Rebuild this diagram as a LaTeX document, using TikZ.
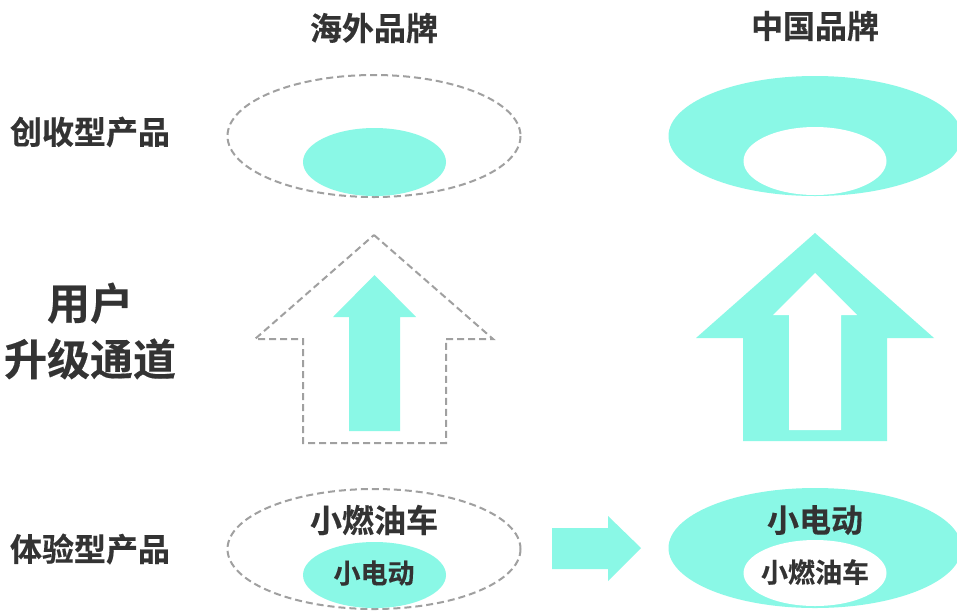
\documentclass[tikz,border=0pt]{standalone}
\usepackage{fontspec}
\newfontfamily\cjk{Noto Sans CJK SC Bold}[FakeBold=0.35]
\definecolor{teal}{HTML}{8AF8E6}
\definecolor{txt}{HTML}{333333}
\definecolor{dashc}{HTML}{A0A0A0}
\tikzset{x=1pt,y=-1pt,
 fillshape/.style={fill=teal,draw=none},
 hole/.style={fill=white,draw=none},
 dashshape/.style={draw=dashc,line width=2pt,dash pattern=on 7pt off 4pt,fill=none},
 L/.style={inner sep=0pt,text=txt,font=\cjk\fontsize{32}{32}\selectfont},
 B/.style={inner sep=0pt,text=txt,font=\cjk\fontsize{43}{56}\selectfont,align=center},
 S/.style={inner sep=0pt,text=txt,font=\cjk\fontsize{27}{27}\selectfont}}
\begin{document}
\begin{tikzpicture}
\useasboundingbox (0,0) rectangle (957,611);
\fill[white] (0,0) rectangle (957,611);
\node[L] (h1) at (374,28) {海外品牌};
\node[L] (h2) at (815,26) {中国品牌};
\node[L] (r1) at (90,132) {创收型产品};
\node[L] (r2) at (90,549) {体验型产品};
\node[B] (mid) at (90,331) {用户\\升级通道};
% top left
\draw[dashshape] (374,136) ellipse [x radius=146.5,y radius=61];
\fill[fillshape] (374.5,162) ellipse [x radius=71.5,y radius=34];
% top right
\fill[fillshape] (815,136) ellipse [x radius=146.5,y radius=60];
\fill[hole] (815,161) ellipse [x radius=71.5,y radius=34];
% up arrows
\draw[dashshape] (374,235) -- (493,339) -- (446,339) -- (446,443) -- (303,443) -- (303,339) -- (255,339) -- cycle;
\fill[fillshape] (374.5,275) -- (416,317) -- (400,317) -- (400,431) -- (349,431) -- (349,317) -- (333,317) -- cycle;
\fill[fillshape] (815,233) -- (934,338) -- (887,338) -- (887,441) -- (743,441) -- (743,338) -- (696,338) -- cycle;
\fill[hole] (815,273) -- (857,315) -- (841,315) -- (841,430) -- (789,430) -- (789,315) -- (773,315) -- cycle;
% bottom
\draw[dashshape] (374,549) ellipse [x radius=146.5,y radius=60];
\fill[fillshape] (374.5,575) ellipse [x radius=71.5,y radius=33];
\fill[fillshape] (815,548) ellipse [x radius=146.5,y radius=60];
\fill[hole] (815,573) ellipse [x radius=71.5,y radius=33];
\fill[fillshape] (552,528) -- (608,528) -- (608,516) -- (641,548) -- (608,581) -- (608,569) -- (552,569) -- cycle;
\node[L] (a) at (374,520) {小燃油车};
\node[S] (b) at (374,573) {小电动};
\node[L] (c) at (815,520) {小电动};
\node[S] (d) at (815,572) {小燃油车};
\end{tikzpicture}
\end{document}
